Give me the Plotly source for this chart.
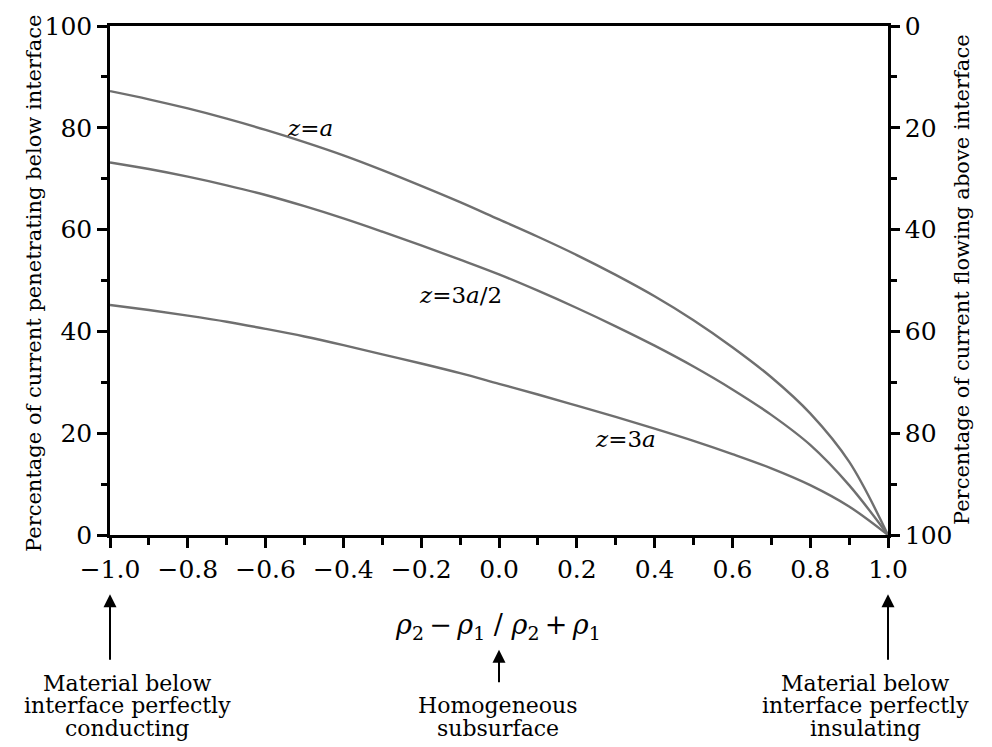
import plotly.graph_objects as go

# ---- data ----
x_vals = [-1.0, -0.9, -0.8, -0.7, -0.6, -0.5, -0.4, -0.3, -0.2, -0.1, 0.0,
          0.1, 0.2, 0.3, 0.4, 0.5, 0.6, 0.7, 0.8, 0.9, 1.0]
z_a   = [87.2, 85.6, 83.8, 81.8, 79.6, 77.2, 74.6, 71.7, 68.6, 65.4, 62.0,
         58.6, 55.0, 51.1, 46.9, 42.2, 36.9, 31.0, 23.9, 14.4, 0.0]
z_3a2 = [73.2, 71.9, 70.4, 68.7, 66.8, 64.6, 62.2, 59.6, 56.9, 54.1, 51.2,
         48.0, 44.6, 41.0, 37.2, 33.1, 28.6, 23.6, 17.7, 9.8, 0.0]
z_3a  = [45.2, 44.2, 43.1, 41.9, 40.5, 39.0, 37.3, 35.5, 33.7, 31.8, 29.7,
         27.6, 25.4, 23.2, 20.9, 18.5, 15.9, 13.1, 9.8, 5.6, 0.0]

series = [("z=a", z_a), ("z=3a/2", z_3a2), ("z=3a", z_3a)]
curve_labels = [
    ("<i>z</i>=<i>a</i>", -0.486, 80.0),
    ("<i>z</i>=3<i>a</i>/2", -0.10, 47.2),
    ("<i>z</i>=3<i>a</i>", 0.324, 18.8),
]

FONT = "DejaVu Serif"
CURVE = "#6f6f6f"

fig = go.Figure()
for name, vals in series:
    fig.add_trace(go.Scatter(x=x_vals, y=vals, mode="lines", name=name,
                             line=dict(color=CURVE, width=2.4, shape="spline", smoothing=1.0),
                             hoverinfo="skip", showlegend=False))

# same curve as "current flowing above" on the reversed right axis (invisible, same position)
fig.add_trace(go.Scatter(x=x_vals, y=[100 - v for v in z_a], yaxis="y2", mode="lines",
                         line=dict(color="rgba(0,0,0,0)", width=0), hoverinfo="skip",
                         showlegend=False))

tickfont = dict(family=FONT, size=25, color="black")

fig.update_layout(
    width=992, height=747,
    margin=dict(l=110, r=104, t=20, b=212),
    plot_bgcolor="white", paper_bgcolor="white",
    font=dict(family=FONT, color="black"),
    showlegend=False,
    xaxis=dict(range=[-1, 1], tick0=-1, dtick=0.2, tickformat=".1f",
               ticks="outside", ticklen=10, tickwidth=2.5, tickcolor="black",
               minor=dict(dtick=0.1, tick0=-1, ticks="outside", ticklen=7, tickwidth=2.5, tickcolor="black"),
               showline=True, linecolor="black", linewidth=2.5, mirror=True,
               showgrid=False, zeroline=False, tickfont=tickfont),
    yaxis=dict(range=[0, 100], tick0=0, dtick=20,
               ticks="outside", ticklen=10, tickwidth=2.5, tickcolor="black",
               minor=dict(dtick=10, tick0=0, ticks="outside", ticklen=6, tickwidth=2.5, tickcolor="black"),
               showline=True, linecolor="black", linewidth=2.5,
               showgrid=False, zeroline=False, tickfont=tickfont),
    yaxis2=dict(range=[100, 0], tick0=0, dtick=20, overlaying="y", side="right",
                ticks="outside", ticklen=9, tickwidth=2.5, tickcolor="black",
                minor=dict(dtick=10, tick0=0, ticks="outside", ticklen=6, tickwidth=2.5, tickcolor="black"),
                showline=True, linecolor="black", linewidth=2.5,
                showgrid=False, zeroline=False, tickfont=tickfont),
)

def px_to_paper_y(py):
    return (535 - py) / 515.0

def px_to_paper_x(px):
    return (px - 110) / 778.0

ann = []
for txt, xx, yy in curve_labels:
    ann.append(dict(text=txt, x=xx, y=yy, xref="x", yref="y", showarrow=False,
                    font=dict(family=FONT, size=23, color="black"),
                    xanchor="center", yanchor="middle"))

# axis titles
ann.append(dict(text="Percentage of current penetrating below interface",
                x=px_to_paper_x(34), y=px_to_paper_y(280), xref="paper", yref="paper",
                textangle=-90, showarrow=False, xanchor="center", yanchor="middle",
                font=dict(family=FONT, size=21, color="black")))
ann.append(dict(text="Percentage of current flowing above interface",
                x=px_to_paper_x(962), y=px_to_paper_y(277), xref="paper", yref="paper",
                textangle=-90, showarrow=False, xanchor="center", yanchor="middle",
                font=dict(family=FONT, size=21, color="black")))
ann.append(dict(text="<i>ρ</i><sub>2</sub>\u2009\u2212\u2009<i>ρ</i><sub>1</sub> / <i>ρ</i><sub>2</sub>\u2009+\u2009<i>ρ</i><sub>1</sub>",
                x=px_to_paper_x(498), y=px_to_paper_y(628), xref="paper", yref="paper",
                showarrow=False, xanchor="center", yanchor="middle",
                font=dict(family=FONT, size=27, color="black")))

# arrows
for ax_x, tip, length in [(-1.0, 595, 67), (0.0, 651, 34), (1.0, 595, 67)]:
    ann.append(dict(text="", x=ax_x, y=px_to_paper_y(tip), xref="x", yref="paper",
                    showarrow=True, ax=0, ay=length, arrowhead=2, arrowsize=1.3,
                    arrowwidth=2, arrowcolor="black"))

# bottom explanatory texts
notes = [
    (127, ["Material below", "interface perfectly", "conducting"]),
    (498, [None, "Homogeneous", "subsurface"]),
    (865, ["Material below", "interface perfectly", "insulating"]),
]
line_y = [685, 708, 731]
for cx, lines in notes:
    for ln, py in zip(lines, line_y):
        if ln is None:
            continue
        ann.append(dict(text=ln, x=px_to_paper_x(cx), y=px_to_paper_y(py),
                        xref="paper", yref="paper", showarrow=False,
                        xanchor="center", yanchor="middle",
                        font=dict(family=FONT, size=22, color="black")))

fig.update_layout(annotations=ann)
fig.write_html("out.html")
